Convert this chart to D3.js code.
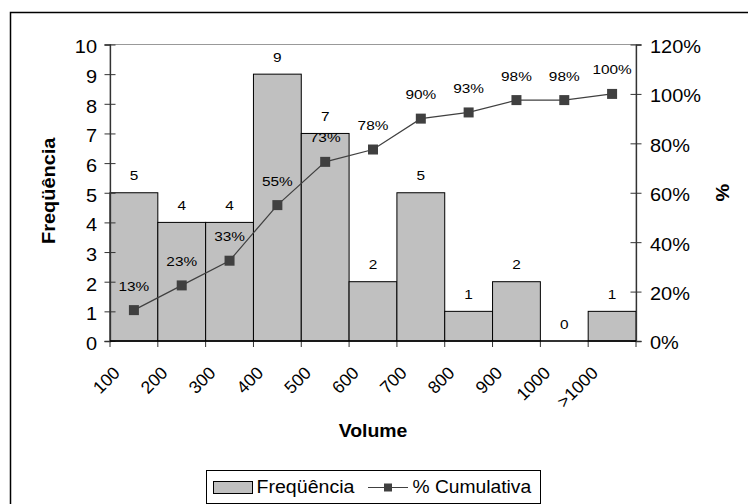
<!DOCTYPE html>
<html>
<head>
<meta charset="utf-8">
<script src="https://cdn.jsdelivr.net/npm/d3@7"></script>
<style>
  html, body { margin: 0; padding: 0; background: #fff; }
  svg { display: block; }
  text { font-family: "Liberation Sans", Arial, Helvetica, sans-serif; fill: #000; }
</style>
</head>
<body>
<svg id="chart" width="748" height="504"></svg>
<script>
// Volume classes and their frequencies
const categories = ["100", "200", "300", "400", "500", "600", "700", "800", "900", "1000", ">1000"];
const frequencies = [5, 4, 4, 9, 7, 2, 5, 1, 2, 0, 1];
// Cumulative share of the total, in percent
const cumulativePct = [12.5, 22.5, 32.5, 55, 72.5, 77.5, 90, 92.5, 97.5, 97.5, 100];
// Axis ticks
const freqTicks = [0, 1, 2, 3, 4, 5, 6, 7, 8, 9, 10];
const pctTicks = [0, 20, 40, 60, 80, 100, 120];

const SX = 1.14; // horizontal widening of the chart text
const svg = d3.select("#chart");

const plot = { left: 110, right: 636, top: 44.5, bottom: 341 };

const x = d3.scaleBand().domain(categories).range([plot.left, plot.right]).padding(0);
const y = d3.scaleLinear().domain([0, 10]).range([plot.bottom, plot.top]);
const y2 = d3.scaleLinear().domain([0, 120]).range([plot.bottom, plot.top]);

// chart frame
svg.append("rect")
  .attr("x", 10.5).attr("y", 12.5).attr("width", 760).attr("height", 520)
  .attr("fill", "#fff").attr("stroke", "#000").attr("stroke-width", 1.5);

// plot area frame
svg.append("rect")
  .attr("x", plot.left).attr("y", plot.top)
  .attr("width", plot.right - plot.left).attr("height", plot.bottom - plot.top)
  .attr("fill", "none").attr("stroke", "#999").attr("stroke-width", 1);

// bars
svg.append("g").selectAll("rect")
  .data(categories.map((c, i) => ({ c, v: frequencies[i] })).filter(d => d.v > 0))
  .join("rect")
  .attr("x", d => x(d.c))
  .attr("y", d => y(d.v))
  .attr("width", x.bandwidth())
  .attr("height", d => y(0) - y(d.v))
  .attr("fill", "#c0c0c0")
  .attr("stroke", "#000")
  .attr("stroke-width", 1);

// bar value labels
svg.append("g").selectAll("text")
  .data(categories.map((c, i) => ({ c, v: frequencies[i] })))
  .join("text")
  .attr("transform", d => `translate(${x(d.c) + x.bandwidth() / 2},${y(d.v) - 12.5}) scale(${SX},1)`)
  .attr("text-anchor", "middle")
  .style("font-size", "13.5px")
  .text(d => d.v);

// left axis
const axL = svg.append("g")
  .attr("transform", `translate(${plot.left},0)`)
  .call(d3.axisLeft(y).tickValues(freqTicks).tickSize(5.5).tickFormat(d3.format("d")));
axL.select(".domain").attr("stroke", "#333").attr("stroke-width", 1.3);
axL.selectAll(".tick line").attr("x1", 5.5).attr("x2", -5.5).attr("stroke", "#333");
axL.selectAll(".tick text")
  .attr("x", null).attr("dy", "0.34em")
  .attr("transform", `translate(-13,2.5) scale(${SX},1)`)
  .style("font-size", "17.5px").attr("fill", "#000");

// right axis
const axR = svg.append("g")
  .attr("transform", `translate(${plot.right},0)`)
  .call(d3.axisRight(y2).tickValues(pctTicks).tickSize(5.5).tickFormat(d => d + "%"));
axR.select(".domain").attr("stroke", "#333").attr("stroke-width", 1.3);
axR.selectAll(".tick line").attr("x1", -5.5).attr("x2", 5.5).attr("stroke", "#333");
axR.selectAll(".tick text")
  .attr("x", null).attr("dy", "0.34em")
  .attr("transform", `translate(14,2) scale(${SX},1)`)
  .style("font-size", "17.5px").attr("fill", "#000");

// bottom axis: ticks on the class boundaries
const edges = categories.map(c => x(c)).concat([plot.right]);
svg.append("g").selectAll("line")
  .data(edges).join("line")
  .attr("x1", d => d).attr("x2", d => d)
  .attr("y1", plot.bottom).attr("y2", plot.bottom + 6)
  .attr("stroke", "#333");
svg.append("line")
  .attr("x1", plot.left).attr("x2", plot.right)
  .attr("y1", plot.bottom).attr("y2", plot.bottom)
  .attr("stroke", "#000").attr("stroke-width", 1.3);

// rotated class labels
svg.append("g").selectAll("text")
  .data(categories).join("text")
  .attr("transform", d => `translate(${x(d) + x.bandwidth() / 2 - 13},374) rotate(-45)`)
  .attr("text-anchor", "end")
  .style("font-size", "17.5px")
  .text(d => d);

// cumulative line
const cx = c => x(c) + x.bandwidth() / 2;
const line = d3.line().x((d, i) => cx(categories[i])).y(d => y2(d));
svg.append("path")
  .datum(cumulativePct)
  .attr("d", line)
  .attr("fill", "none")
  .attr("stroke", "#404040")
  .attr("stroke-width", 1.2);

svg.append("g").selectAll("rect")
  .data(cumulativePct).join("rect")
  .attr("x", (d, i) => cx(categories[i]) - 5)
  .attr("y", d => y2(d) - 5)
  .attr("width", 10).attr("height", 10)
  .attr("fill", "#404040");

svg.append("g").selectAll("text")
  .data(cumulativePct).join("text")
  .attr("transform", (d, i) => `translate(${cx(categories[i])},${y2(d) - 19.5}) scale(${SX},1)`)
  .attr("text-anchor", "middle")
  .style("font-size", "13.5px")
  .text(d => Math.round(d) + "%");

// axis titles
svg.append("text")
  .attr("transform", `translate(54.5,${(plot.top + plot.bottom) / 2 - 2}) rotate(-90) scale(${SX},1)`)
  .attr("text-anchor", "middle")
  .style("font-size", "17.5px").style("font-weight", "bold")
  .text("Freqüência");

svg.append("text")
  .attr("transform", `translate(728.5,${(plot.top + plot.bottom) / 2}) rotate(-90) scale(${SX},1)`)
  .attr("text-anchor", "middle")
  .style("font-size", "17.5px").style("font-weight", "bold")
  .text("%");

svg.append("text")
  .attr("transform", `translate(${(plot.left + plot.right) / 2},436.5) scale(1.08,1)`)
  .attr("text-anchor", "middle")
  .style("font-size", "18px").style("font-weight", "bold")
  .text("Volume");

// legend
const lg = svg.append("g");
lg.append("rect")
  .attr("x", 206.5).attr("y", 470.5).attr("width", 334).attr("height", 33)
  .attr("fill", "#fff").attr("stroke", "#000").attr("stroke-width", 1);
lg.append("rect")
  .attr("x", 213.5).attr("y", 481.5).attr("width", 39).attr("height", 12)
  .attr("fill", "#c0c0c0").attr("stroke", "#000").attr("stroke-width", 1);
lg.append("text")
  .attr("transform", `translate(256.5,493) scale(1.12,1)`)
  .style("font-size", "17.5px")
  .text("Freqüência");
lg.append("line")
  .attr("x1", 368).attr("x2", 408).attr("y1", 487.5).attr("y2", 487.5)
  .attr("stroke", "#404040").attr("stroke-width", 1.2);
lg.append("rect")
  .attr("x", 384).attr("y", 483.5).attr("width", 8).attr("height", 8)
  .attr("fill", "#404040");
lg.append("text")
  .attr("transform", `translate(412.5,493) scale(1.1,1)`)
  .style("font-size", "17.5px")
  .text("% Cumulativa");
</script>
</body>
</html>
